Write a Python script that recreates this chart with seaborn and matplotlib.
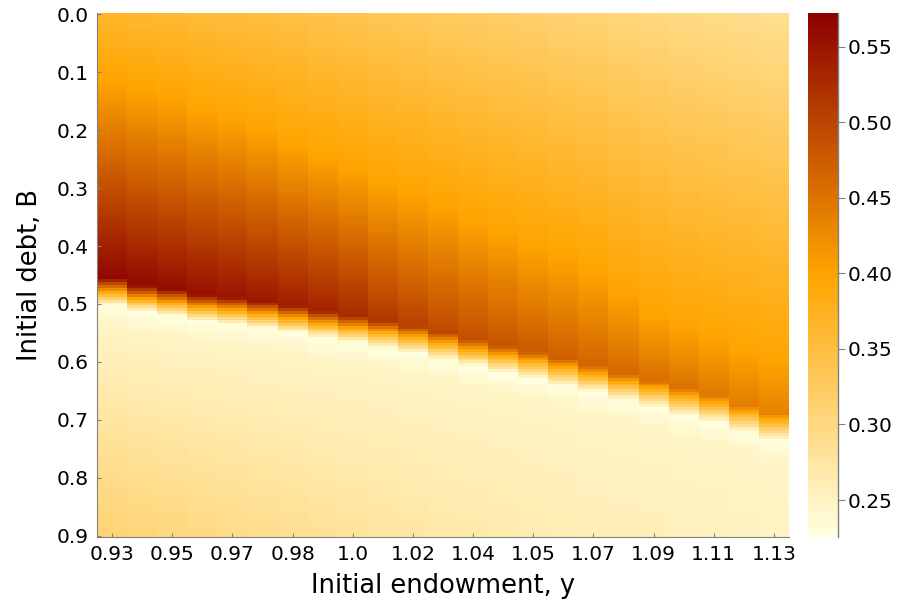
import numpy as np
import pandas as pd
import seaborn as sns
import matplotlib.pyplot as plt
from matplotlib.colors import LinearSegmentedColormap

# tick labels (x labels sit on every second column)
endowment_labels = ["0.93", "0.95", "0.97", "0.98", "1.0", "1.02",
                    "1.04", "1.05", "1.07", "1.09", "1.11", "1.13"]
debt_labels = ["0.0", "0.1", "0.2", "0.3", "0.4", "0.5", "0.6", "0.7", "0.8", "0.9"]

# values read column by column (23 endowment columns, left to right)
# price at B = 0
top_value = [0.366, 0.363, 0.360, 0.357, 0.353, 0.350, 0.346, 0.342, 0.338, 0.334, 0.330, 0.326,
             0.323, 0.319, 0.316, 0.312, 0.309, 0.305, 0.302, 0.298, 0.295, 0.291, 0.288]
# debt level where the colour passes pure orange (0.40)
orange_debt = [0.115, 0.130, 0.145, 0.165, 0.180, 0.200, 0.225, 0.245, 0.265, 0.290, 0.310, 0.330,
               0.355, 0.375, 0.400, 0.420, 0.445, 0.480, 0.520, 0.540, 0.560, 0.580, 0.600]
# debt level of the default edge
default_debt = [0.474, 0.486, 0.493, 0.502, 0.507, 0.514, 0.522, 0.531, 0.539, 0.548, 0.557, 0.568,
                0.580, 0.591, 0.601, 0.613, 0.625, 0.639, 0.651, 0.665, 0.677, 0.694, 0.708]
# darkest value just above the edge
peak_value = [0.565, 0.562, 0.558, 0.555, 0.551, 0.547, 0.542, 0.536, 0.528, 0.514, 0.505, 0.497,
              0.490, 0.484, 0.478, 0.472, 0.467, 0.462, 0.457, 0.453, 0.446, 0.441, 0.436]
# value at B = 0.9
bottom_value = [0.310, 0.306, 0.302, 0.298, 0.294, 0.290, 0.287, 0.283, 0.280, 0.277, 0.273, 0.270,
                0.268, 0.266, 0.263, 0.261, 0.258, 0.257, 0.256, 0.254, 0.253, 0.251, 0.250]
white_value = 0.227   # just below the edge
cream_value = 0.247   # a little further down

debt_grid = np.round(np.arange(0, 0.9001, 0.005), 3)

cols = []
for j in range(len(top_value)):
    b = default_debt[j]
    knots_b = [0.0, orange_debt[j], b - 0.018, b + 0.028, b + 0.065, 0.9]
    knots_v = [top_value[j], 0.40, peak_value[j], white_value, cream_value, bottom_value[j]]
    cols.append(np.interp(debt_grid, knots_b, knots_v))
df = pd.DataFrame(np.array(cols).T, index=debt_grid)

heat = LinearSegmentedColormap.from_list("heat", ["#FFFFE0", "#FFA500", "#8B0000"])

fig = plt.figure(figsize=(9.04, 6.05), dpi=100)
ax = fig.add_axes([97 / 904, 1 - 537 / 605, 692 / 904, 524 / 605])
cax = fig.add_axes([808 / 904, 1 - 537 / 605, 30 / 904, 524 / 605])

sns.heatmap(df, ax=ax, cbar_ax=cax, cmap=heat, vmin=0.2255, vmax=0.5725,
            xticklabels=False, yticklabels=False)

ax.set_xticks(np.arange(0, len(top_value), 2) + 0.5)
ax.set_xticklabels(endowment_labels, rotation=0, fontsize=14.5)
ax.set_yticks(np.arange(len(debt_labels)) * 20 + 0.5)
ax.set_yticklabels(debt_labels, rotation=0, fontsize=14.5)
ax.tick_params(direction="in", length=3, color="gray", pad=6)
for side in ["left", "bottom"]:
    ax.spines[side].set_visible(True)
    ax.spines[side].set_color("gray")
ax.set_xlabel("Initial endowment, y", fontsize=18.5, labelpad=6)
ax.set_ylabel("Initial debt, B", fontsize=18.5, labelpad=10)

cbar = ax.collections[0].colorbar
cbar.set_ticks([0.25, 0.30, 0.35, 0.40, 0.45, 0.50, 0.55])
cbar.set_ticklabels(["0.25", "0.30", "0.35", "0.40", "0.45", "0.50", "0.55"])
cbar.outline.set_visible(False)
cax.tick_params(labelsize=14.5, length=5, color="gray", pad=2)
cax.plot([1, 1], [0, 1], transform=cax.transAxes, color="gray", lw=1, clip_on=False)

plt.savefig("out.png", dpi=100)
